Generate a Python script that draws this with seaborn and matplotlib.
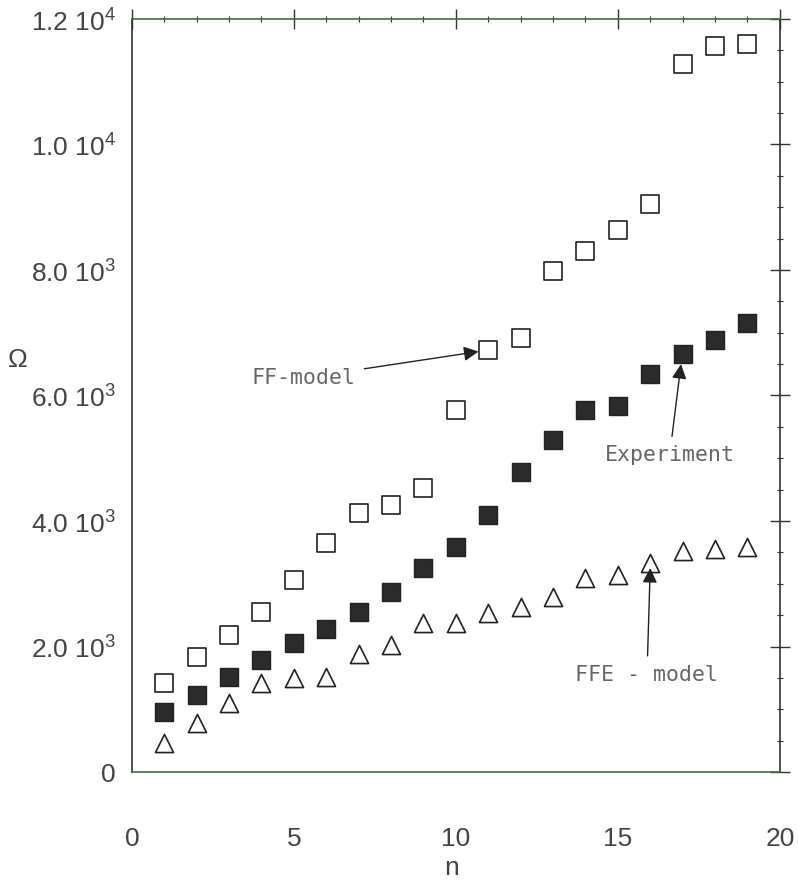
import numpy as np
import pandas as pd
import seaborn as sns
import matplotlib.pyplot as plt
from matplotlib.ticker import MultipleLocator, FixedLocator, FixedFormatter

# values
n = list(range(1, 20))
ff_model = [1420, 1830, 2180, 2550, 3060, 3650, 4130, 4255, 4530, 5770,
            6725, 6915, 7985, 8300, 8640, 9050, 11280, 11570, 11600]
experiment = [955, 1225, 1515, 1785, 2055, 2280, 2550, 2870, 3250, 3585,
              4095, 4780, 5290, 5770, 5835, 6345, 6660, 6885, 7155]
ffe_model = [460, 780, 1100, 1420, 1500, 1515, 1880, 2025, 2375, 2375,
             2535, 2630, 2790, 3090, 3140, 3330, 3520, 3555, 3585]

y_ticks = [0, 2000, 4000, 6000, 8000, 10000, 12000]
y_tick_labels = ['0', r'2.0 10$^3$', r'4.0 10$^3$', r'6.0 10$^3$',
                 r'8.0 10$^3$', r'1.0 10$^4$', r'1.2 10$^4$']
x_ticks = [0, 5, 10, 15, 20]

df = pd.DataFrame({'n': n, 'ff': ff_model, 'exp': experiment, 'ffe': ffe_model})

sns.set_style('white')
plt.rcParams['font.family'] = ['Liberation Sans', 'DejaVu Sans']
plt.rcParams['mathtext.fontset'] = 'custom'
plt.rcParams['mathtext.rm'] = 'Liberation Sans'

fig = plt.figure(figsize=(7.99, 8.83), dpi=100)
ax = fig.add_axes([0.165, 0.1257, 0.811, 0.8528])

sns.scatterplot(data=df, x='n', y='ff', marker='s', s=150, facecolor='white',
                edgecolor='#222222', linewidth=1.2, ax=ax, zorder=3)
sns.scatterplot(data=df, x='n', y='exp', marker='s', s=170, facecolor='#2b2b2b',
                edgecolor='#222222', linewidth=1.0, ax=ax, zorder=3)
sns.scatterplot(data=df, x='n', y='ffe', marker='^', s=170, facecolor='white',
                edgecolor='#222222', linewidth=1.2, ax=ax, zorder=3)

ax.set_xlim(0, 20)
ax.set_ylim(0, 12000)

ax.xaxis.set_major_locator(FixedLocator(x_ticks))
ax.xaxis.set_minor_locator(MultipleLocator(1))
ax.yaxis.set_major_locator(FixedLocator(y_ticks))
ax.yaxis.set_major_formatter(FixedFormatter(y_tick_labels))
ax.yaxis.set_minor_locator(MultipleLocator(500))

ax.tick_params(which='major', direction='inout', length=15, width=1.0,
               color='#333333', top=True, right=True, labelsize=19,
               labelcolor='#444444')
ax.tick_params(which='minor', direction='inout', length=5, width=0.8,
               color='#333333', top=True, right=True)
ax.tick_params(axis='x', which='major', pad=32)
ax.tick_params(axis='y', which='major', pad=4)

for side in ['left', 'right']:
    ax.spines[side].set_color('#333333')
for side in ['top', 'bottom']:
    ax.spines[side].set_color('#3f6f3f')
for side in ax.spines:
    ax.spines[side].set_linewidth(1.2)

ax.set_xlabel('n', fontsize=19, color='#444444', va='center')
ax.set_ylabel('Ω', fontsize=19, color='#444444', rotation=0, ha='center', va='center')
ax.xaxis.set_label_coords(0.494, -0.128)
ax.yaxis.set_label_coords(-0.176, 0.547)

# annotations with arrows
arrow = dict(arrowstyle='-|>', color='#222222', lw=1.0, mutation_scale=22,
             shrinkA=4, shrinkB=0)
txt = dict(fontsize=15.5, family='DejaVu Sans Mono', color='#666666',
           ha='center', va='center')
ax.annotate('FF-model', xy=(10.7, 6700), xytext=(5.3, 6280), arrowprops=arrow, **txt)
ax.annotate('Experiment', xy=(16.95, 6500), xytext=(16.6, 5050), arrowprops=arrow, **txt)
ax.annotate('FFE - model', xy=(16.0, 3250), xytext=(15.9, 1550), arrowprops=arrow, **txt)

fig.savefig('out.png', dpi=100)
